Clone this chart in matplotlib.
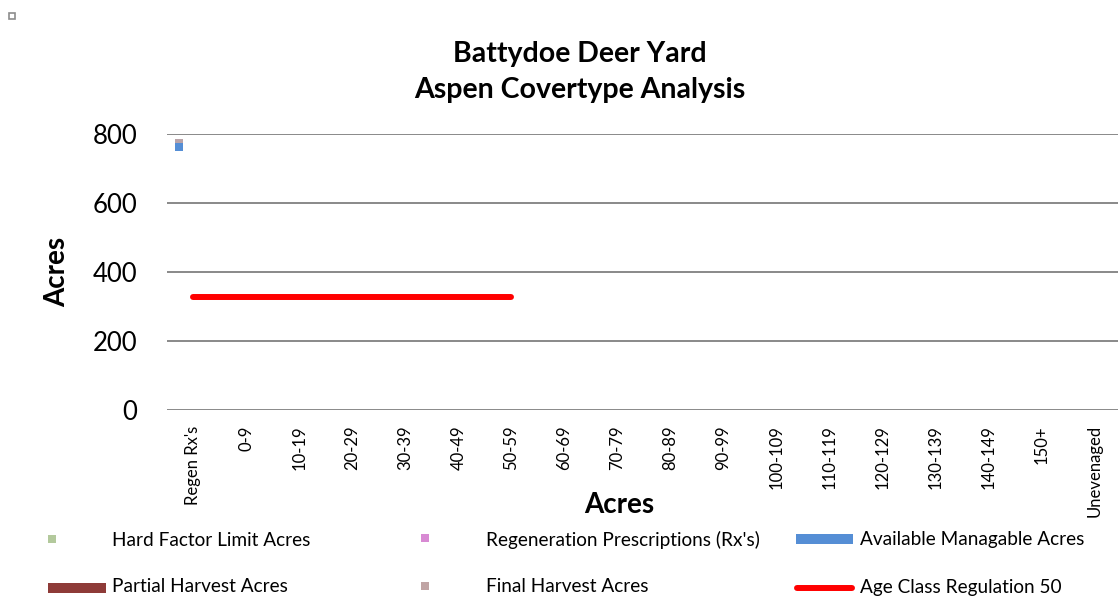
import matplotlib
matplotlib.use("Agg")
import matplotlib.pyplot as plt
import numpy as np
from matplotlib.patches import Rectangle
from matplotlib.lines import Line2D

plt.rcParams['font.family'] = ['Lato', 'DejaVu Sans']

categories = ["Regen Rx's", "0-9", "10-19", "20-29", "30-39", "40-49", "50-59", "60-69",
              "70-79", "80-89", "90-99", "100-109", "110-119", "120-129", "130-139",
              "140-149", "150+", "Unevenaged"]
age_class_regulation = [327, 327, 327, 327, 327, 327, 327] + [np.nan] * 11
available_acres = [763] + [np.nan] * 17
final_harvest_acres = [775] + [np.nan] * 17
yticks = [0, 200, 400, 600, 800]

W, H = 1118, 602
fig = plt.figure(figsize=(W / 100, H / 100), dpi=100)
ax = fig.add_axes([166.5 / W, 192 / H, (1121.5 - 166.5) / W, 276 / H])

x = np.arange(len(categories))
ax.plot(x, age_class_regulation, color='#ff0000', lw=4.3, solid_capstyle='round', zorder=3)
ax.plot(x - 0.26, final_harvest_acres, 's', color='#b9a3a8', ms=5.8, mew=0, zorder=4)
ax.plot(x - 0.26, available_acres, 's', color='#558ed5', ms=5.8, mew=0, zorder=5)

ax.set_xlim(-0.5, len(categories) - 0.5)
ax.set_ylim(0, 800)
ax.set_yticks(yticks)
ax.set_yticklabels([str(v) for v in yticks], fontsize=18.5)
ax.set_xticks(x)
ax.set_xticklabels(categories, rotation=90, fontsize=12)
ax.tick_params(axis='y', length=0, pad=21)
ax.tick_params(axis='x', length=0, pad=11)
ax.grid(axis='y', color='#898989', lw=1.4)
ax.set_axisbelow(True)
for s in ax.spines.values():
    s.set_visible(False)

fig.text(57 / W, 1 - 272 / H, "Acres", rotation=90, fontsize=20, fontweight='bold',
         ha='center', va='center')
fig.text(619 / W, 1 - 505 / H, "Acres", fontsize=20, fontweight='bold',
         ha='center', va='center')
fig.text(580 / W, 1 - 54 / H, "Battydoe Deer Yard", fontsize=20.5, fontweight='bold',
         ha='center', va='center')
fig.text(580 / W, 1 - 90 / H, "Aspen Covertype Analysis", fontsize=20.5, fontweight='bold',
         ha='center', va='center')

# small square at top-left
fig.patches.append(Rectangle((9 / W, 1 - 19 / H), 6 / W, 6 / H, transform=fig.transFigure,
                             facecolor='white', edgecolor='#8c8c8c', lw=1.2))

# manual legend
def sq(xp, yp, color):
    fig.patches.append(Rectangle((xp / W, 1 - (yp + 4) / H), 8 / W, 8 / H,
                                 transform=fig.transFigure, facecolor=color,
                                 edgecolor='none'))

def bar(x0, x1, yp, color):
    fig.patches.append(Rectangle((x0 / W, 1 - (yp + 5) / H), (x1 - x0) / W, 10 / H,
                                 transform=fig.transFigure, facecolor=color,
                                 edgecolor='none'))

fs = 13.7
sq(48, 539, '#b3c99c')
fig.text(112 / W, 1 - 540 / H, "Hard Factor Limit Acres", fontsize=fs, va='center')
sq(421, 538, '#d88ad3')
fig.text(486 / W, 1 - 540 / H, "Regeneration Prescriptions (Rx's)", fontsize=fs, va='center')
bar(796, 853, 539, '#558ed5')
fig.text(860 / W, 1 - 540 / H, "Available Managable Acres", fontsize=fs, va='center')
bar(48, 106, 588, '#8e3b38')
fig.text(112 / W, 1 - 587 / H, "Partial Harvest Acres", fontsize=fs, va='center')
sq(421, 586, '#c0a4a4')
fig.text(486 / W, 1 - 587 / H, "Final Harvest Acres", fontsize=fs, va='center')
fig.lines.append(Line2D([797 / W, 852 / W], [1 - 588 / H, 1 - 588 / H], transform=fig.transFigure,
                        color='#ff0000', lw=4.3, solid_capstyle='round'))
fig.text(860 / W, 1 - 587 / H, "Age Class Regulation 50", fontsize=fs, va='center')

fig.savefig("out.png", dpi=100)
